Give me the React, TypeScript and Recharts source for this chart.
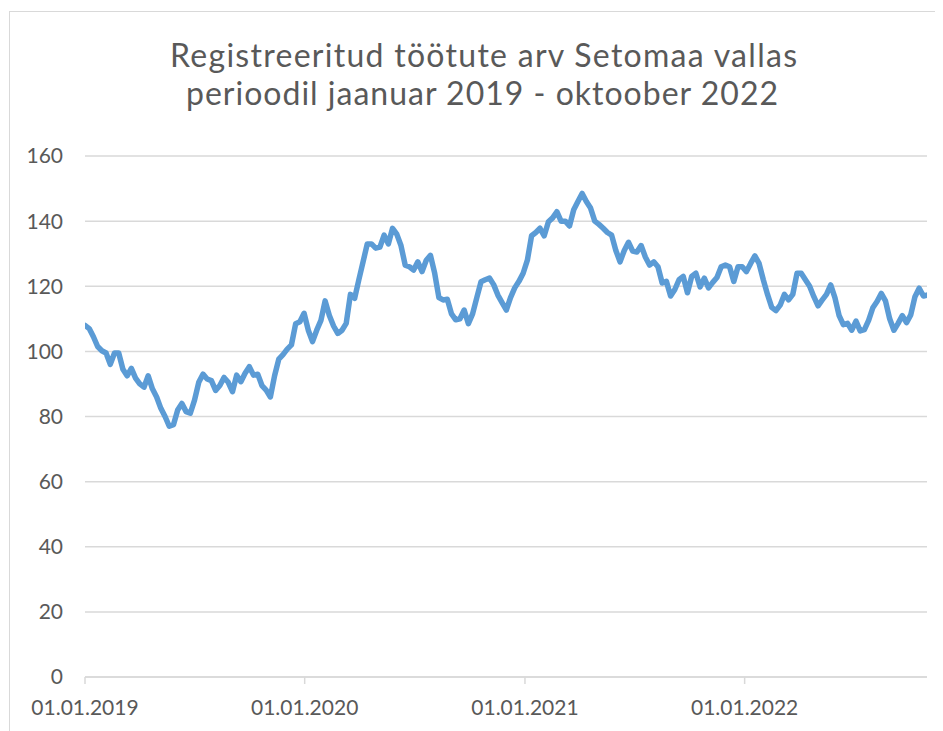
import React from 'react';
import { LineChart, Line, XAxis, YAxis, CartesianGrid } from 'recharts';

// Weekly readings of registered unemployed, starting 01.01.2019 (last point 31.10.2022)
const unemployed: number[] = [
  108, 107, 104.5, 101.5, 100.2, 99.5, 96, 99.5, 99.5, 94.5,
  92.5, 94.8, 91.8, 90, 89, 92.5, 88.5, 86, 82.5, 80,
  77, 77.5, 82, 84, 81.5, 81, 85, 90.5, 93, 91.5,
  91, 88, 89.5, 92, 90.5, 87.6, 92.7, 90.7, 93.3, 95.3,
  92.7, 93, 89.5, 88.1, 86, 92.5, 97.6, 99, 100.7, 102,
  108.5, 109.1, 111.7, 106.5, 103, 106.5, 109.5, 115.5, 111, 107.8,
  105.5, 106.5, 108.6, 117.5, 116.3, 122, 127.5, 133, 133, 131.7,
  132, 135.7, 133, 137.8, 136, 132.5, 126.5, 126, 125, 127.5,
  124.5, 128, 129.5, 124, 116.5, 115.8, 116, 111.5, 109.7, 110,
  112.7, 108.5, 111.5, 116.5, 121.4, 122, 122.5, 120.5, 117.3, 115,
  112.7, 116.5, 119.5, 121.5, 124, 128, 135.5, 136.5, 137.8, 135.5,
  139.8, 141, 142.9, 140, 140, 138.5, 143.5, 146, 148.5, 146,
  144, 140, 139, 137.8, 136.5, 135.7, 131, 127.5, 131, 133.5,
  130.8, 130.5, 132.5, 129, 126.5, 127.5, 126, 121, 121.5, 117,
  119, 122, 123, 118, 123, 124, 119.8, 122.5, 119.5, 121.2,
  122.7, 126, 126.5, 126, 121.5, 126, 126, 124.5, 127, 129.3,
  127, 122, 117.5, 113.5, 112.5, 114.2, 117.5, 115.8, 117.5, 124,
  124, 122, 120, 116.8, 114, 115.8, 117.5, 120.4, 116.5, 111,
  108.2, 108.6, 106.5, 109.3, 106.3, 106.7, 109.5, 113.4, 115.3, 117.8,
  115.5, 110, 106.5, 108.6, 111, 108.8, 111.2, 116.8, 119.4, 117,
  117.3,
];

const lastDay = 1399; // 31.10.2022 counted in days from 01.01.2019
const dayIndex: number[] = unemployed.map((_, i) => Math.min(i * 7, lastDay));

const tickDays: number[] = [0, 365, 731, 1096];
const tickLabels: string[] = ['01.01.2019', '01.01.2020', '01.01.2021', '01.01.2022'];
const yTicks: number[] = [0, 20, 40, 60, 80, 100, 120, 140, 160];

const titleLines: string[] = [
  'Registreeritud töötute arv Setomaa vallas',
  'perioodil jaanuar 2019 - oktoober 2022',
];

const data = dayIndex.map((d, i) => ({ day: d, value: unemployed[i] }));

const FONT = 'Lato, "Open Sans", sans-serif';
const GRAY = '#595959';
const GRID = '#D9D9D9';

export default function App() {
  return (
    <div style={{ position: 'relative', width: 935, height: 723, fontFamily: FONT }}>
      <div
        style={{
          position: 'absolute',
          left: 1,
          top: 3,
          width: 934,
          height: 720,
          borderLeft: `1px solid ${GRID}`,
          borderTop: `1px solid ${GRID}`,
          boxSizing: 'border-box',
        }}
      />
      <div style={{ position: 'absolute', left: 2, top: 4 }}>
        <LineChart
          width={933}
          height={719}
          data={data}
          margin={{ top: 144, right: 16, left: 0, bottom: 24 }}
        >
          <CartesianGrid vertical={false} stroke={GRID} strokeWidth={1.5} />
          <XAxis
            dataKey="day"
            type="number"
            domain={[0, lastDay]}
            ticks={tickDays}
            tickFormatter={(v: number) => tickLabels[tickDays.indexOf(v)] ?? ''}
            height={30}
            axisLine={{ stroke: GRID, strokeWidth: 1.5 }}
            tickLine={{ stroke: GRID, strokeWidth: 1.5 }}
            tickSize={7}
            tickMargin={16}
            tick={{ fill: GRAY, fontSize: 21, fontFamily: FONT }}
            interval={0}
            allowDataOverflow
          />
          <YAxis
            type="number"
            domain={[0, 160]}
            ticks={yTicks}
            width={75}
            axisLine={false}
            tickLine={false}
            tickSize={0}
            tickMargin={22}
            tick={{ fill: GRAY, fontSize: 21, fontFamily: FONT }}
            interval={0}
          />
          <Line
            type="linear"
            dataKey="value"
            stroke="#5B9BD5"
            strokeWidth={5.5}
            strokeLinejoin="round"
            strokeLinecap="round"
            dot={false}
            activeDot={false}
            isAnimationActive={false}
          />
        </LineChart>
      </div>
      <svg
        width={935}
        height={120}
        style={{ position: 'absolute', left: 0, top: 0, pointerEvents: 'none' }}
      >
        <text
          x={475.5}
          y={58.7}
          textAnchor="middle"
          fill={GRAY}
          fontSize={32}
          fontFamily={FONT}
          textLength={627}
          lengthAdjust="spacing"
        >
          {titleLines[0]}
        </text>
        <text
          x={474}
          y={97}
          textAnchor="middle"
          fill={GRAY}
          fontSize={32}
          fontFamily={FONT}
          textLength={592}
          lengthAdjust="spacing"
        >
          {titleLines[1]}
        </text>
      </svg>
    </div>
  );
}
